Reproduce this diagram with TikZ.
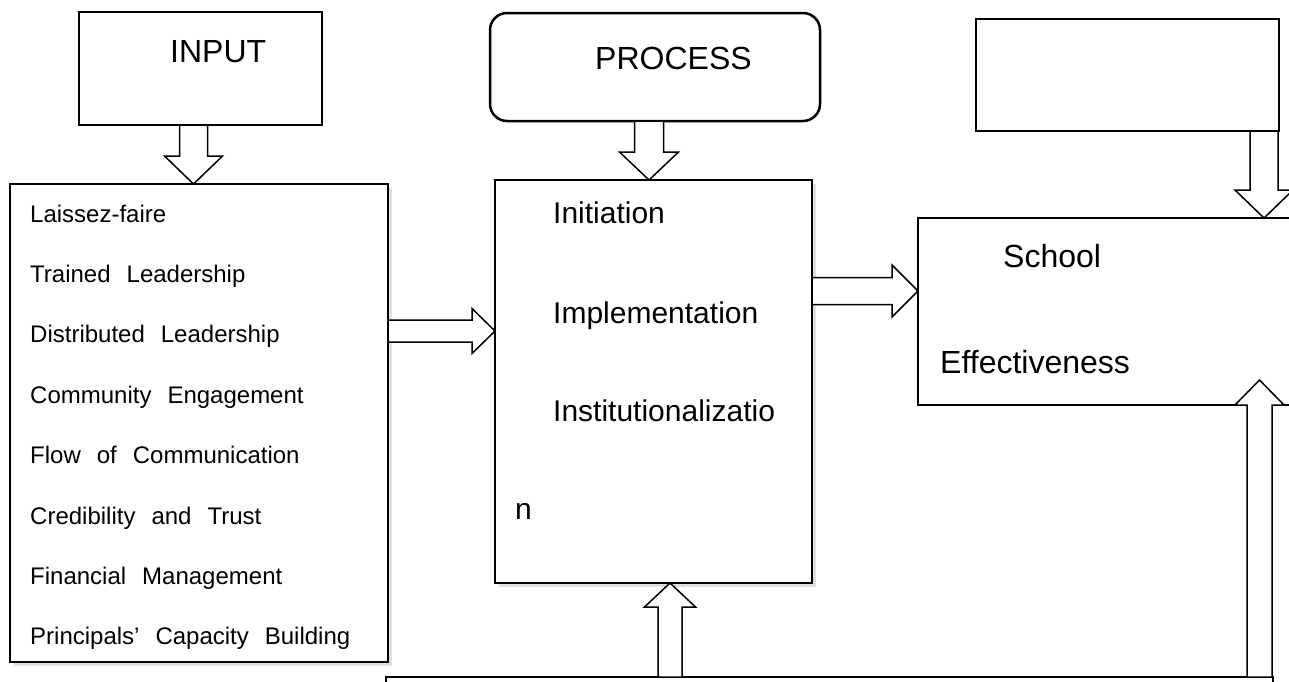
\documentclass[tikz,border=0pt]{standalone}
\usepackage{fontspec}
\setmainfont{Liberation Sans}
\newfontfamily\listfont{Liberation Sans}[WordSpace=2.4]
\usetikzlibrary{calc,positioning,shadows}
\tikzset{
  box/.style={draw,line width=1.5pt,fill=white,anchor=north west,inner sep=0pt,outer sep=0pt},
  heavybox/.style={box,line width=2.5pt},
  shadowed/.style={drop shadow={shadow xshift=4pt,shadow yshift=-4pt,opacity=0.25}},
  title/.style={anchor=base west,inner sep=0pt,font=\fontsize{32}{36}\selectfont},
  stage/.style={anchor=base west,inner sep=0pt,font=\fontsize{30}{34}\selectfont},
  item/.style={anchor=base west,inner sep=0pt,font=\listfont\fontsize{24}{28}\selectfont},
  fatarrow/.style={draw,line width=1.5pt,fill=white,line join=miter}
}
% block arrow: tail, tip, shaft half width, head half width, head length
\newcommand{\blockarrow}[5]{%
  \coordinate (ba-h) at ($(#2)!#5!(#1)$);
  \draw[fatarrow] ($(#1)!#3!90:(#2)$) -- ($(ba-h)!#3!-90:(#1)$)
    -- ($(ba-h)!#4!-90:(#1)$) -- (#2) -- ($(ba-h)!#4!90:(#1)$)
    -- ($(ba-h)!#3!90:(#1)$) -- ($(#1)!#3!-90:(#2)$) -- cycle;
}
\begin{document}
\begin{tikzpicture}[x=1pt,y=-1pt]
  \useasboundingbox (0,0) rectangle (1289,681);
  \clip (0,0) rectangle (1289,681);

  % boxes
  \node[heavybox,minimum width=243pt,minimum height=113pt] (input) at (79,12) {};
  \node[heavybox,rounded corners=17pt,minimum width=330pt,minimum height=108pt] (prochead) at (490,13) {};
  \node[heavybox,minimum width=303pt,minimum height=112pt] (outcome) at (976,19) {};
  \node[box,shadowed,minimum width=378pt,minimum height=478pt] (list) at (10,184) {};
  \node[box,shadowed,minimum width=317pt,minimum height=403pt] (stages) at (495,180) {};
  \node[box,line width=1.2pt,minimum width=400pt,minimum height=187pt] (eff) at (918,218) {};
  \node[box,line width=1.2pt,minimum width=887pt,minimum height=100pt] (bot) at (386,677) {};

  % texts
  \node[title] (inputlbl) at (170,62) {INPUT};
  \node[title] (proclbl) at (595,69) {PROCESS};
  \foreach \txt [count=\i from 0] in {Laissez-faire,Trained Leadership,
      Distributed Leadership,Community Engagement,Flow of Communication,
      Credibility and Trust,Financial Management,Principals’ Capacity Building}
    \node[item] (item\i) at (30,{222+60.4*\i}) {\txt};
  \node[stage] (init) at (553,223) {Initiation};
  \node[stage] (impl) at (553,323) {Implementation};
  \node[stage] (inst) at (553,421) {Institutionalizatio};
  \node[stage] (instn) at (515,519) {n};
  \node[title] (school) at (1003,267) {School};
  \node[title] (effect) at (940,373) {Effectiveness};

  % arrows
  \coordinate (in-tail) at ([xshift=-7pt]input.south);
  \coordinate (in-tip) at (in-tail |- list.north);
  \blockarrow{in-tail}{in-tip}{14pt}{29pt}{28pt}

  \coordinate (pr-tail) at ([xshift=-6pt]prochead.south);
  \coordinate (pr-tip) at (pr-tail |- stages.north);
  \blockarrow{pr-tail}{pr-tip}{14.5pt}{29.5pt}{28pt}

  \coordinate (ls-tip) at ([yshift=50.5pt]stages.west);
  \coordinate (ls-tail) at (list.east |- ls-tip);
  \blockarrow{ls-tail}{ls-tip}{11pt}{22.5pt}{23pt}

  \coordinate (se-tip) at ([yshift=20.5pt]eff.west);
  \coordinate (se-tail) at (stages.east |- se-tip);
  \blockarrow{se-tail}{se-tip}{13.5pt}{26pt}{26pt}

  \coordinate (oe-tail) at ([xshift=-15pt]outcome.south east);
  \coordinate (oe-tip) at (oe-tail |- eff.north);
  \blockarrow{oe-tail}{oe-tip}{14pt}{29pt}{28pt}

  \coordinate (be-tail) at ([xshift=-13.5pt]bot.north east);
  \coordinate (be-base) at (be-tail |- eff.south);
  \coordinate (be-tip) at ([yshift=25pt]be-base);
  \blockarrow{be-tail}{be-tip}{12.5pt}{24.5pt}{25pt}

  \coordinate (bs-tip) at ([xshift=16.5pt]stages.south);
  \coordinate (bs-tail) at (bs-tip |- bot.north);
  \blockarrow{bs-tail}{bs-tip}{12pt}{25.5pt}{24pt}
\end{tikzpicture}
\end{document}
